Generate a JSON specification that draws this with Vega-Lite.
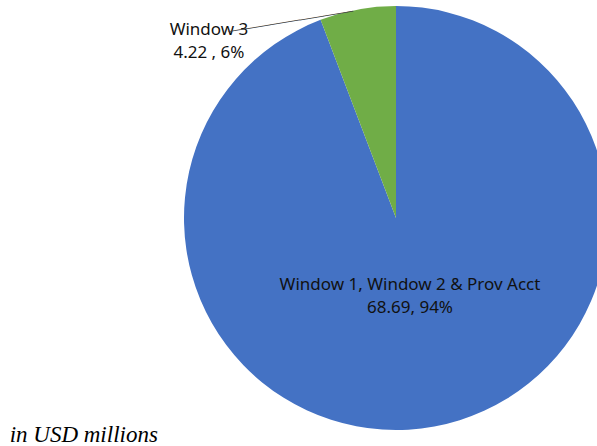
{
  "$schema": "https://vega.github.io/schema/vega-lite/v6.json",
  "width": 402,
  "height": 424,
  "autosize": {"type": "none"},
  "padding": {"left": 195, "top": 6, "right": 0, "bottom": 16},
  "background": "white",
  "view": {"stroke": null},
  "title": {
    "text": "in USD millions",
    "orient": "bottom",
    "anchor": "start",
    "baseline": "alphabetic",
    "font": "Liberation Serif",
    "fontStyle": "italic",
    "fontWeight": "normal",
    "fontSize": 23,
    "color": "#000000",
    "dx": -160,
    "offset": 12
  },
  "data": {
    "values": [
      {"category": "Window 1, Window 2 & Prov Acct", "value": 68.69, "label": "Window 1, Window 2 & Prov Acct\n68.69, 94%"},
      {"category": "Window 3", "value": 4.22, "label": "Window 3\n4.22 , 6%"}
    ]
  },
  "encoding": {
    "theta": {"field": "value", "type": "quantitative", "stack": true},
    "order": {"field": "category", "type": "nominal"}
  },
  "layer": [
    {
      "mark": {"type": "arc", "radius": 212, "stroke": null},
      "encoding": {
        "color": {
          "field": "category",
          "type": "nominal",
          "scale": {"domain": ["Window 1, Window 2 & Prov Acct", "Window 3"], "range": ["#4472C4", "#70AD47"]},
          "legend": null
        }
      }
    },
    {
      "mark": {"type": "text", "radius": 68.4, "thetaOffset": -0.024, "lineBreak": "\n", "lineHeight": 23, "font": "Noto Sans", "fontSize": 17, "color": "#111111", "align": "center", "baseline": "middle"},
      "encoding": {
        "text": {"condition": {"test": "datum.category !== 'Window 3'", "field": "label"}, "value": ""}
      }
    },
    {
      "mark": {"type": "text", "radius": 265.5, "thetaOffset": -0.6, "lineBreak": "\n", "lineHeight": 23.5, "font": "Noto Sans", "fontSize": 17, "color": "#111111", "align": "center", "baseline": "middle"},
      "encoding": {
        "text": {"condition": {"test": "datum.category === 'Window 3'", "field": "label"}, "value": ""}
      }
    },
    {
      "mark": {"type": "text", "radius": 222.5, "thetaOffset": -0.31, "angle": 350.7, "font": "DejaVu Sans Mono", "fontSize": 10, "color": "#404040", "align": "center", "baseline": "middle"},
      "encoding": {
        "text": {"condition": {"test": "datum.category === 'Window 3'", "value": "─────────────────────"}, "value": ""}
      }
    }
  ]
}
